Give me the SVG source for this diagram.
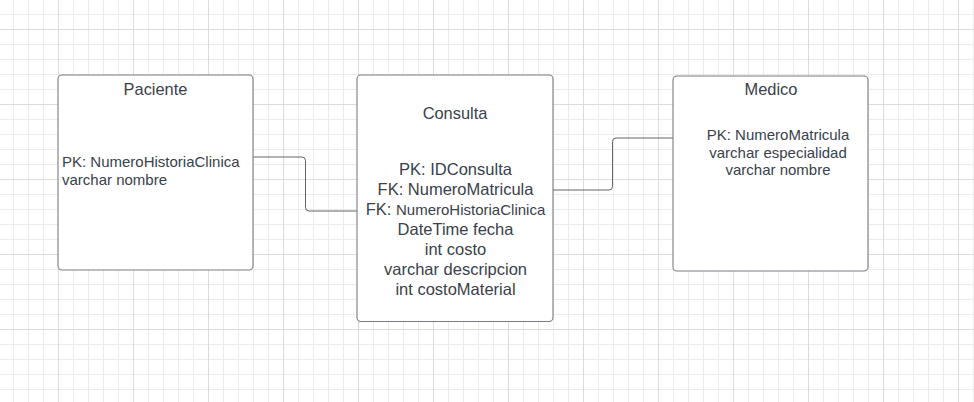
<svg xmlns="http://www.w3.org/2000/svg" width="974" height="402" viewBox="0 0 974 402">
  <defs>
    <pattern id="gridMinor" patternUnits="userSpaceOnUse" x="13" y="14" width="15" height="15">
      <path d="M0.5,0 V15 M0,0.5 H15" fill="none" stroke="#ebebeb" stroke-width="1"/>
    </pattern>
    <pattern id="gridMajor" patternUnits="userSpaceOnUse" x="58" y="29" width="75" height="75">
      <path d="M0.5,0 V75 M0,0.5 H75" fill="none" stroke="#dcdcdc" stroke-width="1"/>
    </pattern>
  </defs>
  <style>
    .box { fill: #ffffff; stroke: #7c7c84; stroke-width: 1.1; }
    .conn { fill: none; stroke: #60646c; stroke-width: 1; }
    .t { font-family: "Liberation Sans", Arial, sans-serif; fill: #3a414a; }
    .title { font-size: 16.4px; text-anchor: middle; }
    .body15 { font-size: 15px; }
    .body16 { font-size: 16.5px; text-anchor: middle; }
  </style>
  <rect x="0" y="0" width="974" height="402" fill="#ffffff"/>
  <rect x="0" y="0" width="974" height="402" fill="url(#gridMinor)"/>
  <rect x="0" y="0" width="974" height="402" fill="url(#gridMajor)"/>

  <g id="connectors">
    <path class="conn" d="M253,157 H302 Q305.5,157 305.5,160.5 V207.5 Q305.5,211 309,211 H357"/>
    <path class="conn" d="M553,190 H609 Q612.5,190 612.5,186.5 V141.5 Q612.5,138 616,138 H673"/>
  </g>

  <g id="paciente">
    <rect class="box" x="58" y="75" width="195" height="195" rx="4"/>
    <text class="t title" x="155.5" y="95">Paciente</text>
    <text class="t body15" x="62" y="167">PK: NumeroHistoriaClinica</text>
    <text class="t body15" x="62" y="184.5">varchar nombre</text>
  </g>

  <g id="consulta">
    <rect class="box" x="357" y="75" width="196" height="246.5" rx="4"/>
    <text class="t title" x="455" y="119.3">Consulta</text>
    <text class="t body16" x="455.5" y="175.3">PK: IDConsulta</text>
    <text class="t body16" x="455.5" y="195.3">FK: NumeroMatricula</text>
    <text class="t body16" x="455.5" y="215.3">FK: <tspan font-size="15px">NumeroHistoriaClinica</tspan></text>
    <text class="t body16" x="455.5" y="235.3">DateTime fecha</text>
    <text class="t body16" x="455.5" y="255.3">int costo</text>
    <text class="t body16" x="455.5" y="275.3">varchar descripcion</text>
    <text class="t body16" x="455.5" y="295.3">int costoMaterial</text>
  </g>

  <g id="medico">
    <rect class="box" x="673" y="76" width="195" height="195" rx="4"/>
    <text class="t title" x="771" y="95">Medico</text>
    <text class="t body15" x="778" y="140" text-anchor="middle">PK: NumeroMatricula</text>
    <text class="t body15" x="778" y="157.5" text-anchor="middle">varchar especialidad</text>
    <text class="t body15" x="778" y="175" text-anchor="middle">varchar nombre</text>
  </g>
</svg>
